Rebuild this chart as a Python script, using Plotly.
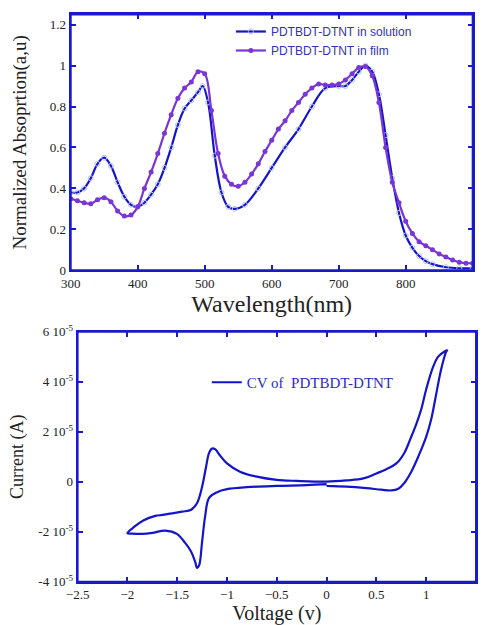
import numpy as np
import plotly.graph_objects as go

# UV-vis absorption, solution
sol_wl = [300, 310, 320, 330, 340, 350, 360, 370, 380, 390, 400, 410, 420, 430, 440, 450,
          460, 470, 480, 490, 497, 505, 515, 525, 535, 545, 560, 580, 600, 620, 640, 660,
          680, 700, 710, 720, 730, 740, 750, 760, 770, 780, 790, 800, 810, 820, 830, 840,
          860, 880, 900]
sol_abs = [0.38, 0.38, 0.40, 0.45, 0.52, 0.55, 0.51, 0.43, 0.36, 0.32, 0.31, 0.33, 0.37, 0.42,
           0.50, 0.60, 0.71, 0.79, 0.83, 0.87, 0.90, 0.82, 0.56, 0.38, 0.31, 0.30, 0.32, 0.40,
           0.50, 0.60, 0.69, 0.80, 0.89, 0.90, 0.90, 0.93, 0.97, 1.00, 0.97, 0.86, 0.66, 0.45,
           0.28, 0.17, 0.11, 0.07, 0.045, 0.03, 0.015, 0.01, 0.01]

# UV-vis absorption, film
film_wl = list(range(300, 901, 10))
film_abs = [0.35, 0.34, 0.33, 0.325, 0.345, 0.355, 0.335, 0.29, 0.265, 0.27, 0.31, 0.40,
            0.48, 0.57, 0.67, 0.76, 0.84, 0.89, 0.92, 0.97, 0.96, 0.78, 0.57, 0.46, 0.42,
            0.41, 0.43, 0.47, 0.52, 0.58, 0.635, 0.69, 0.73, 0.78, 0.82, 0.86, 0.89, 0.91,
            0.905, 0.905, 0.91, 0.93, 0.96, 0.99, 0.995, 0.95, 0.82, 0.60, 0.43, 0.33, 0.24,
            0.18, 0.14, 0.12, 0.10, 0.08, 0.065, 0.05, 0.04, 0.035, 0.035]

# cyclic voltammetry (current in units of 1e-5 A)
cv_volt = [0, 0.2, 0.4, 0.55, 0.65, 0.72, 0.78, 0.85, 0.92, 1.0, 1.05, 1.1, 1.15, 1.2, 1.21,
           1.18, 1.12, 1.07, 1.0, 0.95, 0.9, 0.84, 0.78, 0.7, 0.6, 0.5, 0.37, 0.2, 0, -0.3,
           -0.5, -0.7, -0.87, -1.0, -1.07, -1.12, -1.15, -1.18, -1.21, -1.25, -1.3, -1.36,
           -1.45, -1.55, -1.65, -1.72, -1.84, -1.93, -2.0,
           -1.95, -1.85, -1.75, -1.62, -1.5, -1.42, -1.36, -1.32, -1.3, -1.28, -1.25, -1.22,
           -1.18, -1.1, -1.0, -0.8, -0.5, -0.2, 0]
cv_curr = [-0.17, -0.2, -0.26, -0.32, -0.35, -0.28, -0.05, 0.4, 1.0, 1.8, 2.5, 3.5, 4.5, 5.2,
           5.25, 5.2, 5.0, 4.6, 3.7, 2.9, 2.3, 1.7, 1.15, 0.73, 0.5, 0.33, 0.13, 0.05, 0.0,
           0.03, 0.07, 0.2, 0.4, 0.73, 1.05, 1.3, 1.33, 1.15, 0.6, -0.2, -0.85, -1.12, -1.2,
           -1.27, -1.33, -1.37, -1.55, -1.8, -2.06,
           -2.08, -2.09, -2.05, -1.96, -2.1, -2.45, -2.8, -3.2, -3.45, -3.35, -2.4, -1.4,
           -0.65, -0.42, -0.3, -0.22, -0.17, -0.14, -0.1]
cv_yticks = [-4, -2, 0, 2, 4, 6]

BLUE = "#1414c8"
PURPLE = "#7a35d6"
FRAME = "#1a1acc"
serif = "Liberation Serif"


def frame_axis(**kw):
    d = dict(showline=True, linecolor=FRAME, linewidth=2, mirror="allticks",
             ticks="inside", ticklen=5, tickwidth=2, tickcolor=FRAME,
             showgrid=False, zeroline=False, automargin=False,
             tickfont=dict(family=serif, size=13, color="#222"))
    d.update(kw)
    return d


fig = go.Figure()
fig.add_trace(go.Scatter(x=sol_wl, y=sol_abs, mode="lines+markers", name="PDTBDT-DTNT in solution",
                         line=dict(color=BLUE, width=2.2, shape="spline"),
                         marker=dict(symbol="circle-open", size=5, color="#b8c4f0"),
                         xaxis="x", yaxis="y"))
fig.add_trace(go.Scatter(x=film_wl, y=film_abs, mode="lines+markers", name="PDTBDT-DTNT in film",
                         line=dict(color=PURPLE, width=2.2, shape="spline"),
                         marker=dict(symbol="circle", size=5, color=PURPLE),
                         xaxis="x", yaxis="y"))
fig.add_trace(go.Scatter(x=cv_volt, y=np.array(cv_curr) * 1e-5, mode="lines",
                         name="CV of  PDTBDT-DTNT",
                         line=dict(color=BLUE, width=2.2, shape="spline"),
                         xaxis="x2", yaxis="y2", legend="legend2"))

# frame boxes around both panels
for xr, yr in (("x domain", "y domain"), ("x2 domain", "y2 domain")):
    fig.add_shape(type="rect", xref=xr, yref=yr, x0=0, x1=1, y0=0, y1=1,
                  line=dict(color=FRAME, width=2), layer="above")

fig.update_layout(
    width=482, height=625, margin=dict(l=0, r=0, t=0, b=0),
    paper_bgcolor="white", plot_bgcolor="white",
    xaxis=frame_axis(domain=[0.1467, 0.9807], range=[300, 900], dtick=100, anchor="y",
                     title=dict(text="Wavelength(nm)",
                                font=dict(family=serif, size=24, color="#222"), standoff=2)),
    yaxis=frame_axis(domain=[0.5675, 0.977], range=[0, 1.25],
                     tickvals=[0, 0.2, 0.4, 0.6, 0.8, 1, 1.2],
                     ticktext=["0", "0.2", "0.4", "0.6", "0.8", "1", "1.2"], anchor="x",
                     title=dict(text="Normalized Absoprtion(a,u)",
                                font=dict(family=serif, size=19, color="#222"), standoff=18)),
    xaxis2=frame_axis(domain=[0.161, 0.9876], range=[-2.5, 1.5], dtick=0.5, anchor="y2",
                      title=dict(text="Voltage (v)",
                                 font=dict(family=serif, size=20, color="#222"), standoff=8)),
    yaxis2=frame_axis(domain=[0.0693, 0.4693], range=[-4e-5, 6e-5],
                      tickvals=[v * 1e-5 for v in cv_yticks],
                      ticktext=["0" if v == 0 else f"{v} 10<sup>-5</sup>" for v in cv_yticks],
                      anchor="x2",
                      title=dict(text="Current (A)",
                                 font=dict(family=serif, size=18, color="#222"), standoff=10)),
    legend=dict(x=0.479, y=1 - 17 / 625, xanchor="left", yanchor="top",
                bgcolor="rgba(0,0,0,0)", tracegroupgap=0,
                font=dict(family="Liberation Sans", size=12, color="#3232b0")),
    legend2=dict(x=0.429, y=1 - 366 / 625, xanchor="left", yanchor="top",
                 bgcolor="rgba(0,0,0,0)",
                 font=dict(family=serif, size=15, color="#2a2ac0")),
)

fig.write_html("out.html", post_script="document.body.style.margin='0';",
               config={"displayModeBar": False})
